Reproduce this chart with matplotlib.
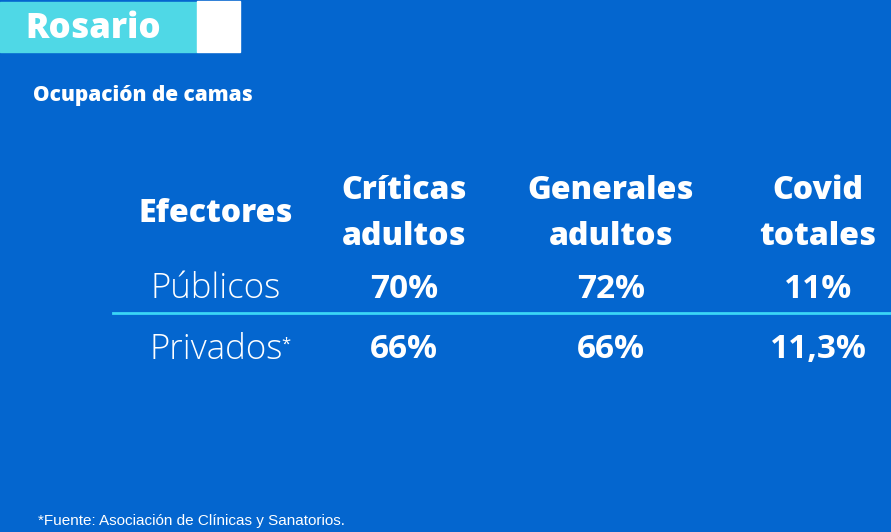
import matplotlib.pyplot as plt
from matplotlib.patches import Rectangle

# data
ciudad = 'Rosario'
subtitulo = 'Ocupación de camas'
columnas = ['Efectores', 'Críticas\nadultos', 'Generales\nadultos', 'Covid\ntotales']
efectores = ['Públicos', 'Privados*']
criticas = ['70%', '66%']
generales = ['72%', '66%']
covid = ['11%', '11,3%']
fuente = '*Fuente: Asociación de Clínicas y Sanatorios.'

bg = '#0466cf'
cyan = '#4fd8e6'
fam = 'Open Sans'

fig = plt.figure(figsize=(8.91, 5.32), dpi=100)
fig.patch.set_facecolor(bg)
ax = fig.add_axes([0, 0, 1, 1])
ax.set_xlim(0, 891)
ax.set_ylim(532, 0)
ax.axis('off')

# title block
ax.add_patch(Rectangle((0, 2), 197, 50, color=cyan))
ax.add_patch(Rectangle((197, 1), 43, 51, color='white'))
ax.text(93, 29, ciudad, color='white', fontsize=25, fontweight=800,
        family=fam, ha='center', va='center')
ax.text(33, 96, subtitulo, color='white', fontsize=15, fontweight=800,
        family=fam, ha='left', va='center')

# table
col_x = [216, 404, 611, 818]
for x, c in zip(col_x, columnas):
    ax.text(x, 214, c, color='white', fontsize=23, fontweight=800,
            family=fam, ha='center', va='center', linespacing=1.55)

row_y = [289, 350]
for i, y in enumerate(row_y):
    name = efectores[i].rstrip('*')
    t = ax.text(col_x[0], y, name, color='white', fontsize=25,
                fontweight='light', family=fam, ha='center', va='center')
    if efectores[i].endswith('*'):
        ax.annotate('*', xy=(1, 0.9), xycoords=t, xytext=(-1, 0),
                    textcoords='offset points', color='white', fontsize=12,
                    family=fam, ha='left', va='top')
    for x, vals in zip(col_x[1:], [criticas, generales, covid]):
        ax.text(x, y, vals[i], color='white', fontsize=24, fontweight=700,
                family=fam, ha='center', va='center')

ax.plot([113, 891], [313, 313], color='#3ad6f6', lw=2)

ax.text(38, 521, fuente, color='white', fontsize=11,
        family='Liberation Sans', ha='left', va='center')

fig.savefig('out.png', dpi=100, facecolor=bg)
